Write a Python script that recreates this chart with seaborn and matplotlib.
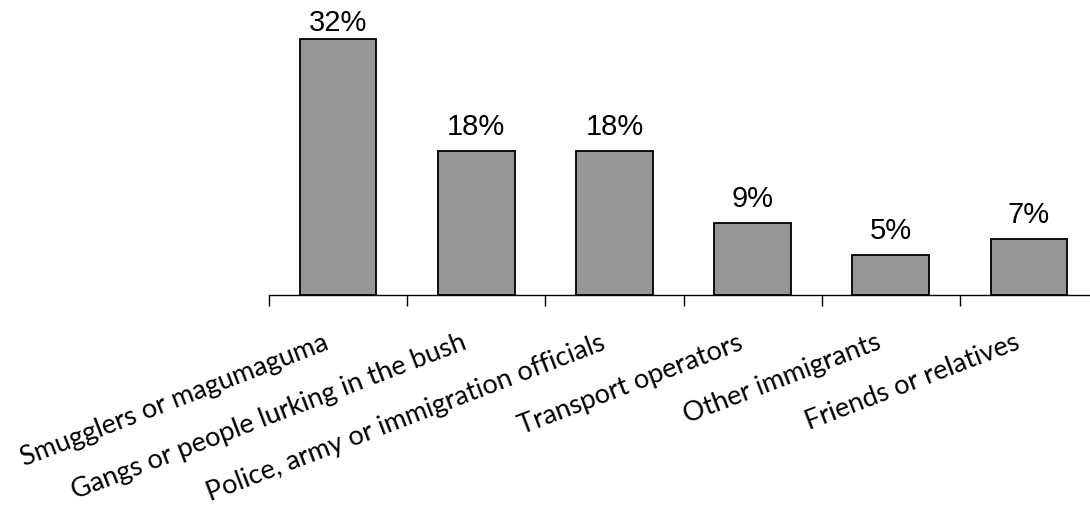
import matplotlib
matplotlib.use("Agg")
import matplotlib.pyplot as plt
import matplotlib.transforms as mtransforms
import seaborn as sns
import pandas as pd
from matplotlib.ticker import FixedLocator

categories = [
    "Smugglers or magumaguma",
    "Gangs or people lurking in the bush",
    "Police, army or immigration officials",
    "Transport operators",
    "Other immigrants",
    "Friends or relatives",
]
values = [32, 18, 18, 9, 5, 7]
value_labels = ["32%", "18%", "18%", "9%", "5%", "7%"]

sns.set_theme(style="white")
plt.rcParams['font.family'] = ['Lato', 'DejaVu Sans']

W, H = 1090, 510
fig = plt.figure(figsize=(W / 100, H / 100), dpi=100)
ax = fig.add_axes([269 / W, (H - 296) / H, (1098 - 269) / W, 280 / H])

df = pd.DataFrame({"cat": categories, "val": values})
sns.barplot(data=df, x="cat", y="val", color="#969696", saturation=1,
            edgecolor="black", linewidth=1.3, width=0.556, ax=ax)

ax.set_xlim(-0.5, len(categories) - 0.5)
ax.set_ylim(0, 35)
ax.set_xlabel("")
ax.set_ylabel("")
ax.set_yticks([])

for s in ["top", "right", "left"]:
    ax.spines[s].set_visible(False)
ax.spines["bottom"].set_color("black")
ax.spines["bottom"].set_linewidth(1.0)

ax.xaxis.set_minor_locator(FixedLocator([i - 0.5 for i in range(len(categories) + 1)]))
ax.tick_params(axis="x", which="minor", length=8, width=1, color="black", direction="out", bottom=True)
ax.tick_params(axis="x", which="major", length=0, pad=38)
ax.set_xticks(range(len(categories)))
shift = mtransforms.ScaledTranslation(-8 / 100, 0, fig.dpi_scale_trans)
for lab in ax.set_xticklabels(categories, rotation=21, ha="right", va="baseline",
                              rotation_mode="anchor", fontsize=19.5, color="black"):
    lab.set_transform(lab.get_transform() + shift)

# value labels: ~17px above the bar, but kept below the top of the figure
px2pt = 72 / 100
for i, (v, lab) in enumerate(zip(values, value_labels)):
    bar_top_px = (H - 296) + v * 280 / 35  # from bottom of figure
    room = H - 31 - bar_top_px
    off = min(17, room)
    ax.annotate(lab, (i, v), xytext=(0, off * px2pt), textcoords="offset points",
                ha="center", va="baseline", fontsize=21, color="black",
                family=["Liberation Sans", "DejaVu Sans"])

fig.savefig("out.png", dpi=100)
